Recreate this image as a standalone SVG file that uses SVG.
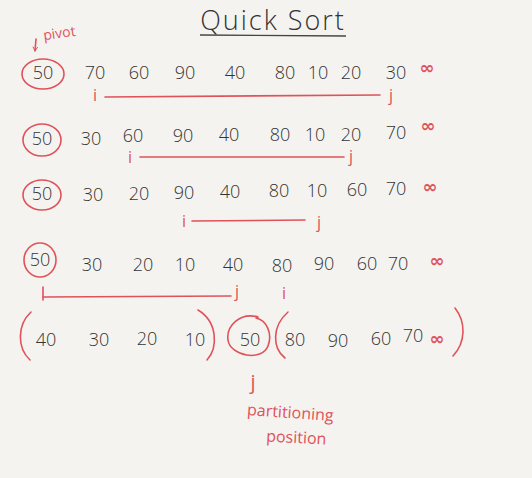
<svg xmlns="http://www.w3.org/2000/svg" width="532" height="478" viewBox="0 0 532 478">
<defs>
<style>
.n{font-family:"Open Sans","DejaVu Sans",sans-serif;font-size:18px;font-weight:300;fill:#333;text-anchor:middle}
.r{font-family:"Open Sans","DejaVu Sans",sans-serif;fill:#e0525a;text-anchor:middle}
.inf{font-family:"DejaVu Sans",sans-serif;font-size:18px;fill:#e0525a;text-anchor:middle;font-weight:bold}
.rl{fill:none;stroke:#e0525a;stroke-width:1.6;stroke-linecap:round}
.t{font-family:"Open Sans","DejaVu Sans",sans-serif;font-size:27px;font-weight:300;fill:#333;text-anchor:middle;letter-spacing:2px}
</style>
<marker id="ah" viewBox="0 0 10 10" refX="9" refY="5" markerWidth="6" markerHeight="6" orient="auto" markerUnits="userSpaceOnUse">
<path d="M2,1 L9,5 L2,9" fill="none" stroke="#e0525a" stroke-width="1.6"/>
</marker>
</defs>
<rect width="532" height="478" fill="#f4f3f0"/>

<g id="title">
<text class="t" x="273" y="30">Quick Sort</text>
<line x1="200" y1="35" x2="346" y2="36" stroke="#444" stroke-width="1.4"/>
</g>

<g id="pivot-label">
<text class="r" x="60" y="38" font-size="14" transform="rotate(-8 60 38)">pivot</text>
<line x1="36" y1="39" x2="35" y2="51" class="rl" marker-end="url(#ah)"/>
</g>

<g id="row1">
<ellipse cx="43" cy="74" rx="21" ry="15" class="rl"/>
<text class="n" x="43" y="79">50</text>
<text class="n" x="95" y="79">70</text>
<text class="n" x="139" y="79">60</text>
<text class="n" x="185" y="79">90</text>
<text class="n" x="235" y="79">40</text>
<text class="n" x="285" y="79">80</text>
<text class="n" x="318" y="79">10</text>
<text class="n" x="351" y="79">20</text>
<text class="n" x="396" y="79">30</text>
<text class="inf" x="427" y="74">∞</text>
</g>

<g id="row2">
<ellipse cx="42" cy="140" rx="19" ry="16" class="rl"/>
<text class="n" x="42" y="145">50</text>
<text class="n" x="91" y="145">30</text>
<text class="n" x="133" y="142">60</text>
<text class="n" x="183" y="142">90</text>
<text class="n" x="229" y="141">40</text>
<text class="n" x="280" y="141">80</text>
<text class="n" x="315" y="141">10</text>
<text class="n" x="351" y="141">20</text>
<text class="n" x="396" y="139">70</text>
<text class="inf" x="428" y="132">∞</text>
</g>

<g id="row3">
<ellipse cx="42" cy="195" rx="19" ry="15" class="rl"/>
<text class="n" x="42" y="200">50</text>
<text class="n" x="93" y="201">30</text>
<text class="n" x="139" y="200">20</text>
<text class="n" x="184" y="199">90</text>
<text class="n" x="230" y="198">40</text>
<text class="n" x="279" y="197">80</text>
<text class="n" x="317" y="197">10</text>
<text class="n" x="357" y="196">60</text>
<text class="n" x="396" y="195">70</text>
<text class="inf" x="430" y="193">∞</text>
</g>

<g id="row4">
<ellipse cx="40" cy="260" rx="16" ry="17" class="rl"/>
<text class="n" x="40" y="266">50</text>
<text class="n" x="92" y="271">30</text>
<text class="n" x="143" y="271">20</text>
<text class="n" x="185" y="271">10</text>
<text class="n" x="233" y="271">40</text>
<text class="n" x="282" y="272">80</text>
<text class="n" x="324" y="270">90</text>
<text class="n" x="367" y="270">60</text>
<text class="n" x="398" y="270">70</text>
<text class="inf" x="437" y="267">∞</text>
</g>

<g id="row5-left">
<path d="M31,312 C17,325 17,348 30,360" class="rl" stroke-width="2"/>
<text class="n" x="46" y="346" font-size="20">40</text>
<text class="n" x="99" y="346" font-size="20">30</text>
<text class="n" x="147" y="345" font-size="20">20</text>
<text class="n" x="195" y="346" font-size="20">10</text>
<path d="M198,310 C218,322 218,348 207,360" class="rl" stroke-width="2"/>
</g>

<g id="row5-pivot">
<path d="M258,317 C240,312 226,326 228,340 C230,356 262,362 268,346 C273,333 266,320 256,318" class="rl" stroke-width="2"/>
<text class="n" x="250" y="346" font-size="20">50</text>
</g>

<g id="row5-right">
<path d="M288,312 C272,326 272,348 285,358" class="rl" stroke-width="2"/>
<text class="n" x="295" y="346" font-size="20">80</text>
<text class="n" x="338" y="347" font-size="20">90</text>
<text class="n" x="381" y="345" font-size="20">60</text>
<text class="n" x="413" y="342" font-size="20">70</text>
<text class="inf" x="437" y="345">∞</text>
<path d="M455,308 C466,322 466,342 453,356" class="rl" stroke-width="2"/>
</g>

<g id="connectors">
<text class="r" x="95" y="101" font-size="16">i</text>
<line x1="105" y1="97" x2="380" y2="95" class="rl"/>
<text class="r" x="391" y="101" font-size="16">j</text>

<text class="r" x="130" y="163" font-size="16">i</text>
<line x1="140" y1="157" x2="344" y2="157" class="rl"/>
<text class="r" x="351" y="162" font-size="16">j</text>

<text class="r" x="184" y="227" font-size="16">i</text>
<line x1="192" y1="221" x2="305" y2="220" class="rl"/>
<text class="r" x="319" y="228" font-size="16">j</text>

<line x1="43" y1="287" x2="43" y2="300" class="rl" stroke-width="2"/>
<line x1="43" y1="297" x2="231" y2="296" class="rl"/>
<text class="r" x="237" y="297" font-size="16">j</text>
<text class="r" x="284" y="299" font-size="16">i</text>

<text class="r" x="253" y="389" font-size="20">j</text>
</g>

<g id="partition-label">
<text class="r" x="290" y="418" font-size="16" transform="rotate(4 290 418)">partitioning</text>
<text class="r" x="296" y="443" font-size="16" transform="rotate(3 296 443)">position</text>
</g>
</svg>
